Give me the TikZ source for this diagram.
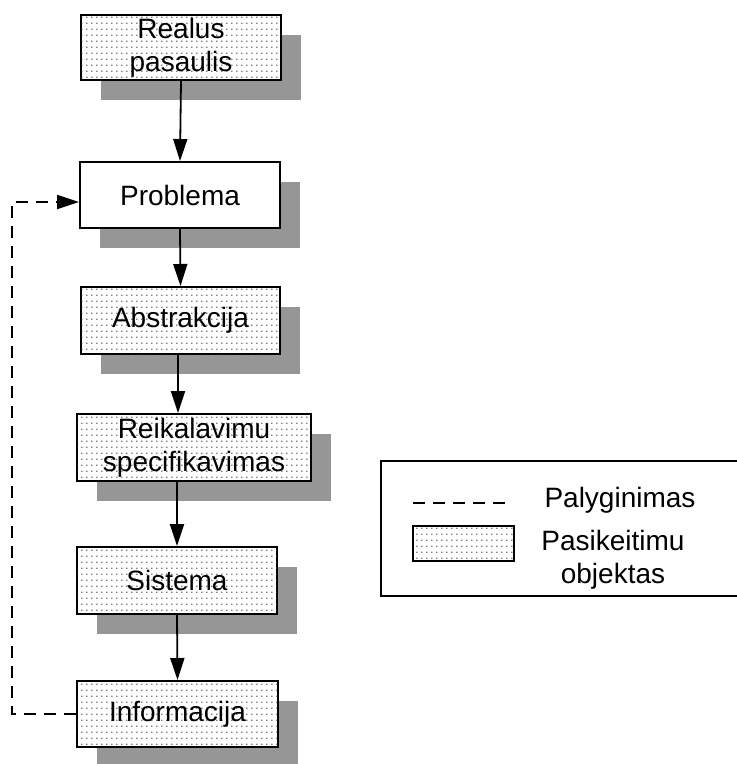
\documentclass[tikz,border=0pt]{standalone}
\usepackage{fontspec}
\setmainfont{Liberation Sans}
\usetikzlibrary{arrows.meta,shadows,patterns,calc}

% fine dotted fill used for the "changed object" boxes
\pgfdeclarepatternformonly{finedots}{\pgfpointorigin}{\pgfpoint{5pt}{5.8pt}}{\pgfpoint{5pt}{5.8pt}}{%
  \pgfpathrectangle{\pgfpoint{1.5pt}{2.2pt}}{\pgfpoint{1.3pt}{1.3pt}}\pgfusepath{fill}}

\tikzset{
  base/.style={draw=black, line width=2pt, inner sep=0pt, align=center,
    font=\fontsize{28}{33}\selectfont,
    drop shadow={shadow xshift=20pt, shadow yshift=-20pt, fill=black!41, opacity=1, draw=none}},
  plainbox/.style={base, fill=white},
  dotbox/.style={base, fill=white, postaction={pattern=finedots, pattern color=black!75}},
  flow/.style={line width=1.8pt, -{Triangle[length=22pt, width=14pt]}},
  cmp/.style={line width=1.8pt, dash pattern=on 12pt off 8pt, -{Triangle[length=22pt, width=14pt]}},
  lbl/.style={inner sep=0pt, align=center, font=\fontsize{28}{33}\selectfont}
}

\begin{document}
\begin{tikzpicture}[x=1pt, y=-1pt]
  \useasboundingbox (0,0) rectangle (737,764);

  % process chain
  \node[dotbox, minimum width=200pt, minimum height=65pt] (real) at (181,47.5) {Realus\\pasaulis};
  \node[plainbox, minimum width=200pt, minimum height=66pt] (prob) at (180,195) {Problema};
  \node[dotbox, minimum width=199pt, minimum height=67pt] (abs) at (180.5,320.5) {Abstrakcija};
  \node[dotbox, minimum width=234pt, minimum height=67pt] (req) at (194,447.5) {Reikalavimu\\specifikavimas};
  \node[dotbox, minimum width=200pt, minimum height=67pt] (sys) at (177,580.5) {Sistema};
  \node[dotbox, minimum width=201pt, minimum height=66pt] (inf) at (177.5,714) {Informacija};

  \draw[flow] (real.south) -- (prob.north);
  \draw[flow] (prob.south) -- (abs.north);
  \draw[flow] (abs.south -| 178,0) -- (req.north -| 178,0);
  \draw[flow] (req.south -| sys.north) -- (sys.north);
  \draw[flow] (sys.south) -- (inf.north);

  % feedback: information compared against the problem
  \draw[cmp] (inf.west) -- ++(-64,0) |- ([yshift=-7pt]prob.west);

  % legend
  \draw[line width=1.8pt] (740,461) -- (381,461) -- (381,596) -- (740,596);
  \coordinate (ls) at (413,503);
  \coordinate (le) at (510,503);
  \draw[line width=1.8pt, dash pattern=on 12pt off 8pt] (ls) -- (le);
  \node[lbl] (lcmp) at (620,500) {Palyginimas};
  \node[draw=black, line width=2pt, fill=white, postaction={pattern=finedots, pattern color=black!75},
        minimum width=101pt, minimum height=35pt, inner sep=0pt] (lsw) at (463.5,543.5) {};
  \node[lbl] (lchg) at (613,559.5) {Pasikeitimu\\objektas};
\end{tikzpicture}
\end{document}
